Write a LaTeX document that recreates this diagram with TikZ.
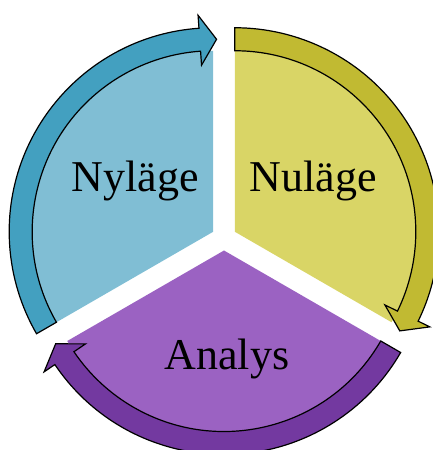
\documentclass[tikz,border=0pt]{standalone}
\usepackage{fontspec}
\setmainfont{Liberation Serif}
\definecolor{nyfill}{RGB}{128,190,212}
\definecolor{nyarrow}{RGB}{67,160,192}
\definecolor{nufill}{RGB}{217,213,102}
\definecolor{nuarrow}{RGB}{193,186,50}
\definecolor{anfill}{RGB}{155,98,194}
\definecolor{anarrow}{RGB}{115,57,160}

\begin{document}
\begin{tikzpicture}[x=1pt,y=1pt,
		ringarrow/.style={draw=black,line width=1.2pt,line join=miter},
		sectortext/.style={anchor=base,inner sep=0pt,font=\fontsize{44}{50}\selectfont}]
		\useasboundingbox (0,0) rectangle (433,450);
		
		% Mittelpunkte der drei Sektoren
		\coordinate (ny) at (213.2,218.25);
		\coordinate (nu) at (234.8,218.25);
		\coordinate (an) at (224,199.5);
		
		% Sektoren
		\fill[nyfill] (ny) -- ++(210:181pt) arc[start angle=210,end angle=90,radius=181pt] -- cycle;
		\fill[nufill] (nu) -- ++(90:181pt) arc[start angle=90,end angle=-30,radius=181pt] -- cycle;
		\fill[anfill] (an) -- ++(-30:181pt) arc[start angle=-30,end angle=-150,radius=181pt] -- cycle;
		
		% Pfeil Nyläge
		\draw[ringarrow,fill=nyarrow] ([shift={(210:181pt)}]ny) arc[start angle=210,end angle=94,radius=181pt]
			-- ([shift={(94:167pt)}]ny) -- ([shift={(89:192.5pt)}]ny) -- ([shift={(94:217pt)}]ny)
			-- ([shift={(94:204pt)}]ny) arc[start angle=94,end angle=210,radius=204pt] -- cycle;
		
		% Pfeil Nuläge
		\draw[ringarrow,fill=nuarrow] ([shift={(90:181pt)}]nu) arc[start angle=90,end angle=-26,radius=181pt]
			-- ([shift={(-26:167pt)}]nu) -- ([shift={(-31:192.5pt)}]nu) -- ([shift={(-26:217pt)}]nu)
			-- ([shift={(-26:204pt)}]nu) arc[start angle=-26,end angle=90,radius=204pt] -- cycle;
		
		% Pfeil Analys
		\draw[ringarrow,fill=anarrow] ([shift={(-30:181pt)}]an) arc[start angle=-30,end angle=-146,radius=181pt]
			-- ([shift={(-146:167pt)}]an) -- ([shift={(-151:192.5pt)}]an) -- ([shift={(-146:217pt)}]an)
			-- ([shift={(-146:204pt)}]an) arc[start angle=-146,end angle=-30,radius=204pt] -- cycle;
		
		% Beschriftungen
		\node[sectortext] (nylage) at (135,258) {Nyläge};
		\node[sectortext] (nulage) at (313,258) {Nuläge};
		\node[sectortext] (analys) at (227,80) {Analys};
	\end{tikzpicture}
\end{document}
